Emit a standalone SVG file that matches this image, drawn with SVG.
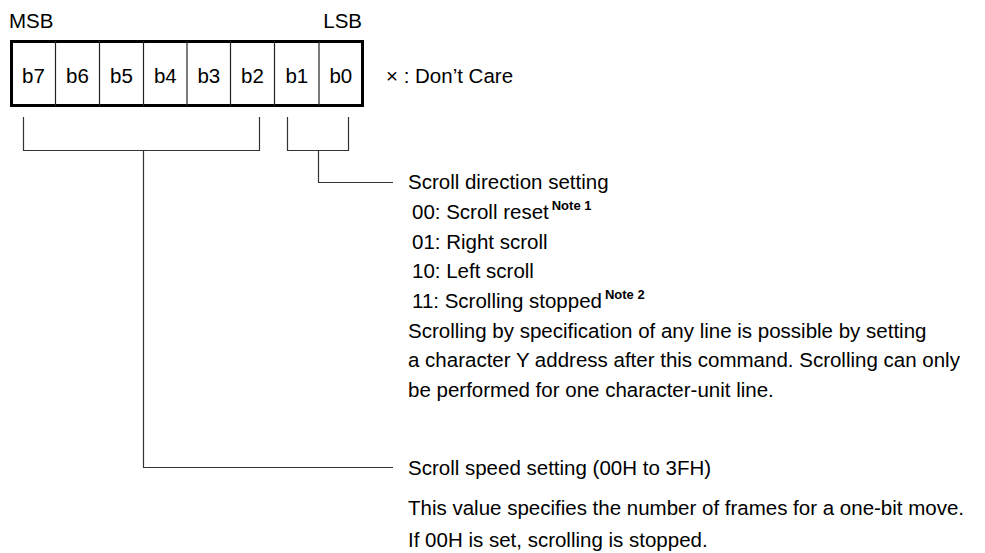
<svg xmlns="http://www.w3.org/2000/svg" width="985" height="553" viewBox="0 0 985 553">
<style>
text{font-family:"Liberation Sans",Arial,sans-serif;font-size:20.5px;fill:#000}
.c{text-anchor:middle}
.n{font-size:13px;font-weight:bold}
.ln{fill:none;stroke:#333;stroke-width:1.2}
.dv{stroke:#222;stroke-width:1.2}
</style>
<rect width="985" height="553" fill="#fff"/>
<g id="register">
<text x="9" y="28">MSB</text>
<text x="362" y="28" text-anchor="end">LSB</text>
<rect x="11.5" y="41.5" width="351" height="64" fill="#fff" stroke="#000" stroke-width="3"/>
<line class="dv" x1="55.5" y1="41" x2="55.5" y2="106"/>
<line class="dv" x1="99.5" y1="41" x2="99.5" y2="106"/>
<line class="dv" x1="143.5" y1="41" x2="143.5" y2="106"/>
<line class="dv" x1="187" y1="41" x2="187" y2="106"/>
<line class="dv" x1="230.5" y1="41" x2="230.5" y2="106"/>
<line class="dv" x1="274.5" y1="41" x2="274.5" y2="106"/>
<line class="dv" x1="319" y1="41" x2="319" y2="106"/>
<text class="c" x="33.5" y="83">b7</text>
<text class="c" x="77.5" y="83">b6</text>
<text class="c" x="121.5" y="83">b5</text>
<text class="c" x="165.3" y="83">b4</text>
<text class="c" x="208.8" y="83">b3</text>
<text class="c" x="252.5" y="83">b2</text>
<text class="c" x="296.8" y="83">b1</text>
<text class="c" x="340.8" y="83">b0</text>
<text x="386" y="83">× : Don’t Care</text>
</g>
<g id="connectors">
<path class="ln" d="M23.5,117 V150.5 H259.5 V117"/>
<path class="ln" d="M143.5,150.5 V467.5 H393"/>
<path class="ln" d="M287.5,117 V150.5 H348.5 V117"/>
<path class="ln" d="M318.5,150.5 V182.5 H393"/>
</g>
<g id="scroll-direction">
<text x="408" y="189">Scroll direction setting</text>
<text x="412" y="219">00: Scroll reset<tspan class="n" dx="3" dy="-9">Note 1</tspan></text>
<text x="412" y="249">01: Right scroll</text>
<text x="412" y="278">10: Left scroll</text>
<text x="412" y="308">11: Scrolling stopped<tspan class="n" dx="3" dy="-9">Note 2</tspan></text>
<text x="408" y="338">Scrolling by specification of any line is possible by setting</text>
<text x="408" y="367">a character Y address after this command. Scrolling can only</text>
<text x="408" y="397">be performed for one character-unit line.</text>
</g>
<g id="scroll-speed">
<text x="408" y="475">Scroll speed setting (00H to 3FH)</text>
<text x="408" y="515">This value specifies the number of frames for a one-bit move.</text>
<text x="408" y="547">If 00H is set, scrolling is stopped.</text>
</g>
</svg>
